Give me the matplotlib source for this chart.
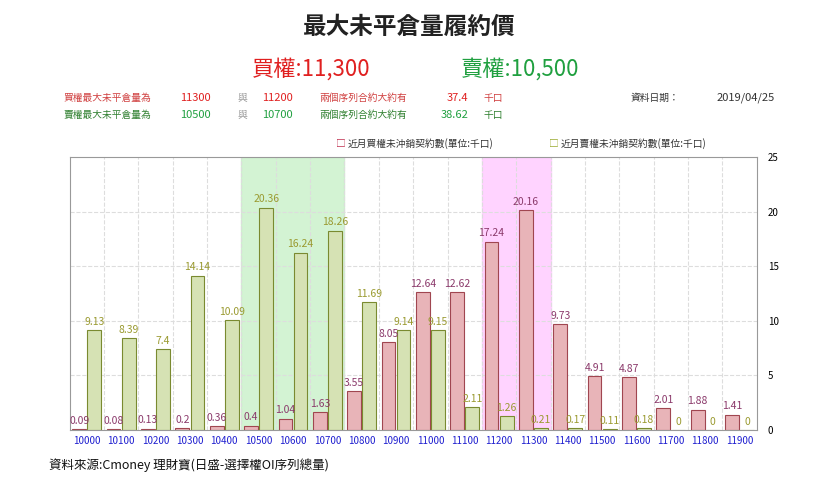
import numpy as np
import matplotlib.pyplot as plt

plt.rcParams['font.family'] = ['Noto Sans CJK JP', 'Noto Sans CJK TC', 'Noto Sans CJK SC', 'DejaVu Sans']

strikes = ["10000", "10100", "10200", "10300", "10400", "10500", "10600", "10700", "10800", "10900",
           "11000", "11100", "11200", "11300", "11400", "11500", "11600", "11700", "11800", "11900"]
calls = [0.09, 0.08, 0.13, 0.2, 0.36, 0.4, 1.04, 1.63, 3.55, 8.05,
         12.64, 12.62, 17.24, 20.16, 9.73, 4.91, 4.87, 2.01, 1.88, 1.41]
puts = [9.13, 8.39, 7.4, 14.14, 10.09, 20.36, 16.24, 18.26, 11.69, 9.14,
        9.15, 2.11, 1.26, 0.21, 0.17, 0.11, 0.18, 0, 0, 0]

fig = plt.figure(figsize=(8.19, 4.86), dpi=100)
ax = fig.add_axes([0.085, 0.115, 0.839, 0.562])
x = np.arange(len(strikes))
w = 0.4

# highlighted ranges
ax.axvspan(4.5, 7.5, color='#c8f0c8', alpha=0.8, zorder=0)
ax.axvspan(11.5, 13.5, color='#ffc8ff', alpha=0.8, zorder=0)

ax.bar(x - w / 2 - 0.02, calls, w, color='#e8b4b8', edgecolor='#a04650', linewidth=0.8, zorder=2)
ax.bar(x + w / 2 + 0.02, puts, w, color='#d6e2b4', edgecolor='#7a8a30', linewidth=0.8, zorder=2)
for i in range(len(strikes)):
    ax.text(x[i] - w / 2 - 0.02, calls[i] + 0.3, f"{calls[i]:g}", ha='center', va='bottom',
            fontsize=7.5, color='#8b3a6b', zorder=3)
    ax.text(x[i] + w / 2 + 0.02, puts[i] + 0.3, f"{puts[i]:g}", ha='center', va='bottom',
            fontsize=7.5, color='#9a9a30', zorder=3)

ax.set_xlim(-0.5, len(strikes) - 0.5)
ax.set_ylim(0, 25)
ax.set_xticks(x)
ax.set_xticklabels(strikes, fontsize=7, color='#2020d0')
ax.tick_params(axis='x', length=0, pad=4)
ax.yaxis.tick_right()
ax.set_yticks([0, 5, 10, 15, 20, 25])
ax.tick_params(axis='y', length=0, labelsize=7, pad=8)
for v in [5, 10, 15, 20]:
    ax.axhline(v, color='#dddddd', linestyle='--', linewidth=0.8, zorder=1)
for b in np.arange(0.5, len(strikes) - 0.5):
    ax.axvline(b, color='#dddddd', linestyle='--', linewidth=0.8, zorder=1)
for s in ax.spines.values():
    s.set_color('#999999')
    s.set_linewidth(0.8)

fig.text(0.5, 0.93, "最大未平倉量履約價", ha='center', fontsize=17, fontweight='bold', color='#222222')
fig.text(0.38, 0.845, "買權:11,300", ha='center', fontsize=16, color='#e02020')
fig.text(0.635, 0.845, "賣權:10,500", ha='center', fontsize=16, color='#20a040')

fig.text(0.077, 0.793, "買權最大未平倉量為", fontsize=7, color='#d04040')
fig.text(0.22, 0.793, "11300", fontsize=8, color='#e02020')
fig.text(0.29, 0.793, "與", fontsize=7, color='#999999')
fig.text(0.32, 0.793, "11200", fontsize=8, color='#e02020')
fig.text(0.39, 0.793, "兩個序列合約大約有", fontsize=7, color='#d04040')
fig.text(0.545, 0.793, "37.4", fontsize=8, color='#e02020')
fig.text(0.59, 0.793, "千口", fontsize=7, color='#d04040')
fig.text(0.77, 0.793, "資料日期：", fontsize=7, color='#333333')
fig.text(0.875, 0.793, "2019/04/25", fontsize=8, color='#333333')

fig.text(0.077, 0.757, "賣權最大未平倉量為", fontsize=7, color='#308030')
fig.text(0.22, 0.757, "10500", fontsize=8, color='#20a040')
fig.text(0.29, 0.757, "與", fontsize=7, color='#999999')
fig.text(0.32, 0.757, "10700", fontsize=8, color='#20a040')
fig.text(0.39, 0.757, "兩個序列合約大約有", fontsize=7, color='#308030')
fig.text(0.538, 0.757, "38.62", fontsize=8, color='#20a040')
fig.text(0.59, 0.757, "千口", fontsize=7, color='#308030')

fig.text(0.41, 0.697, "□", fontsize=7, color='#c03050')
fig.text(0.425, 0.697, "近月買權未沖銷契約數(單位:千口)", fontsize=7, color='#333333')
fig.text(0.67, 0.697, "□", fontsize=7, color='#9aaa30')
fig.text(0.685, 0.697, "近月賣權未沖銷契約數(單位:千口)", fontsize=7, color='#333333')

fig.text(0.06, 0.035, "資料來源:Cmoney 理財寶(日盛-選擇權OI序列總量)", fontsize=9, color='#111111')

fig.savefig('out.png', dpi=100)
